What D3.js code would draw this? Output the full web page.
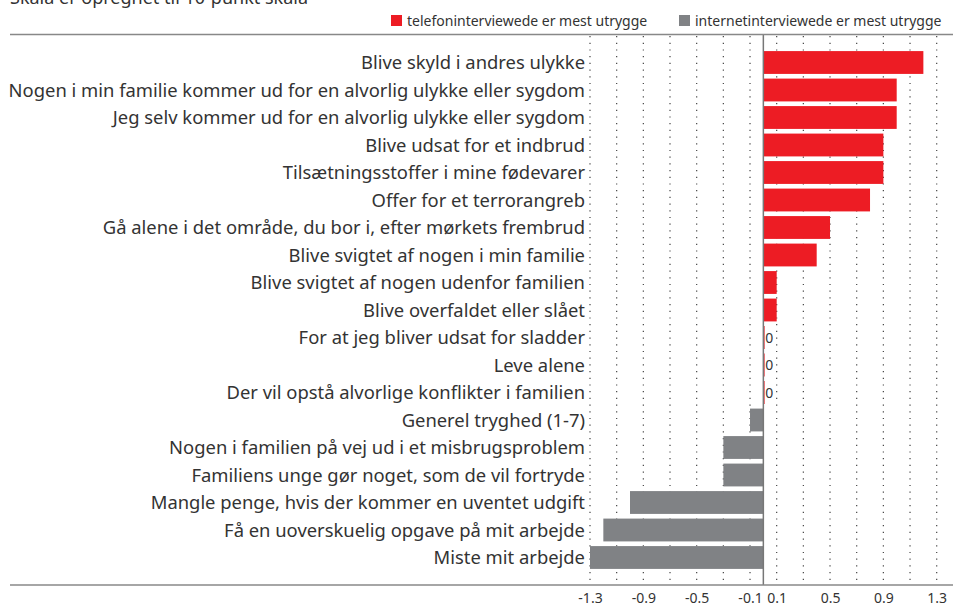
<!DOCTYPE html>
<html><head><meta charset="utf-8">
<script src="https://cdn.jsdelivr.net/npm/d3@7"></script>
<style>body{margin:0;background:#fff}svg{display:block}text{font-family:"Noto Sans",sans-serif;fill:#333}</style>
</head><body><svg id="c" width="953" height="608"></svg>
<script>
const categories = [
"Blive skyld i andres ulykke",
"Nogen i min familie kommer ud for en alvorlig ulykke eller sygdom",
"Jeg selv kommer ud for en alvorlig ulykke eller sygdom",
"Blive udsat for et indbrud",
"Tilsætningsstoffer i mine fødevarer",
"Offer for et terrorangreb",
"Gå alene i det område, du bor i, efter mørkets frembrud",
"Blive svigtet af nogen i min familie",
"Blive svigtet af nogen udenfor familien",
"Blive overfaldet eller slået",
"For at jeg bliver udsat for sladder",
"Leve alene",
"Der vil opstå alvorlige konflikter i familien",
"Generel tryghed (1-7)",
"Nogen i familien på vej ud i et misbrugsproblem",
"Familiens unge gør noget, som de vil fortryde",
"Mangle penge, hvis der kommer en uventet udgift",
"Få en uoverskuelig opgave på mit arbejde",
"Miste mit arbejde"];
const values = [1.2,1.0,1.0,0.9,0.9,0.8,0.5,0.4,0.1,0.1,0,0,0,-0.1,-0.3,-0.3,-1.0,-1.2,-1.3];
const tickValues = [-1.3,-0.9,-0.5,-0.1,0.1,0.5,0.9,1.3];
const gridValues = [-1.3,-1.1,-0.9,-0.7,-0.5,-0.3,-0.1,0.1,0.3,0.5,0.7,0.9,1.1,1.3];
const legendLabels = ["telefoninterviewede er mest utrygge","internetinterviewede er mest utrygge"];
const title = "Skala er opregnet til 10-punkt skala";
const RED="#ED1C24", GRAY="#808285";

const svg=d3.select("#c");
const x=d3.scaleLinear().domain([-1.3,1.3]).range([590,936.7]);
const y=d3.scaleBand().domain(categories).range([35,585]).paddingInner(0.17).paddingOuter(0.585);
const fmt=d3.formatLocale({decimal:".",thousands:",",grouping:[3],currency:["",""],minus:"-"}).format(".1f");

svg.append("text").attr("x",10).attr("y",4).attr("font-size",18).text(title);

// legend
const lg=[{t:legendLabels[0],c:RED,x:391},{t:legendLabels[1],c:GRAY,x:679}];
lg.forEach(d=>{
  svg.append("rect").attr("x",d.x).attr("y",15).attr("width",11).attr("height",11).attr("fill",d.c);
  svg.append("text").attr("x",d.x+16).attr("y",25.5).attr("font-size",14).text(d.t);
});

// grid
svg.append("g").selectAll("line").data(gridValues).join("line")
  .attr("x1",d=>x(d)).attr("x2",d=>x(d)).attr("y1",36).attr("y2",584)
  .attr("stroke","#444").attr("stroke-width",1.2).attr("stroke-dasharray","1.2,5.5");

// bars
svg.append("g").selectAll("rect").data(values).join("rect")
  .attr("x",d=>x(Math.min(0,d))).attr("width",d=>Math.abs(x(d)-x(0)))
  .attr("y",(d,i)=>y(categories[i])).attr("height",y.bandwidth())
  .attr("fill",d=>d>=0?RED:GRAY);

// zero markers
const zeroIdx=values.map((v,i)=>v===0?i:-1).filter(i=>i>=0);
svg.append("g").selectAll("line").data(zeroIdx).join("line")
  .attr("x1",x(0)+0.5).attr("x2",x(0)+0.5).attr("y1",i=>y(categories[i])).attr("y2",i=>y(categories[i])+y.bandwidth())
  .attr("stroke",RED).attr("stroke-width",1.5);
svg.append("g").selectAll("text").data(zeroIdx).join("text")
  .attr("x",x(0)+2).attr("y",i=>y(categories[i])+y.bandwidth()/2+5).attr("font-size",14).text("0");

// zero axis line
svg.append("line").attr("x1",x(0)).attr("x2",x(0)).attr("y1",35).attr("y2",585).attr("stroke","#777").attr("stroke-width",1.5);

// top & bottom rules
[34.5,585].forEach(v=>svg.append("line").attr("x1",10).attr("x2",953).attr("y1",v).attr("y2",v).attr("stroke","#888").attr("stroke-width",1.5));

// category labels
svg.append("g").selectAll("text").data(categories).join("text")
  .attr("x",585).attr("y",d=>y(d)+y.bandwidth()/2+6.5).attr("text-anchor","end").attr("font-size",18.4).text(d=>d);

// x axis
const ax=svg.append("g").attr("transform","translate(0,585)").call(d3.axisBottom(x).tickValues(tickValues).tickSize(0).tickPadding(8).tickFormat(fmt));
ax.select(".domain").remove();
ax.selectAll("text").attr("font-size",14).style("font-family","Noto Sans").attr("fill","#333");
</script></body></html>
